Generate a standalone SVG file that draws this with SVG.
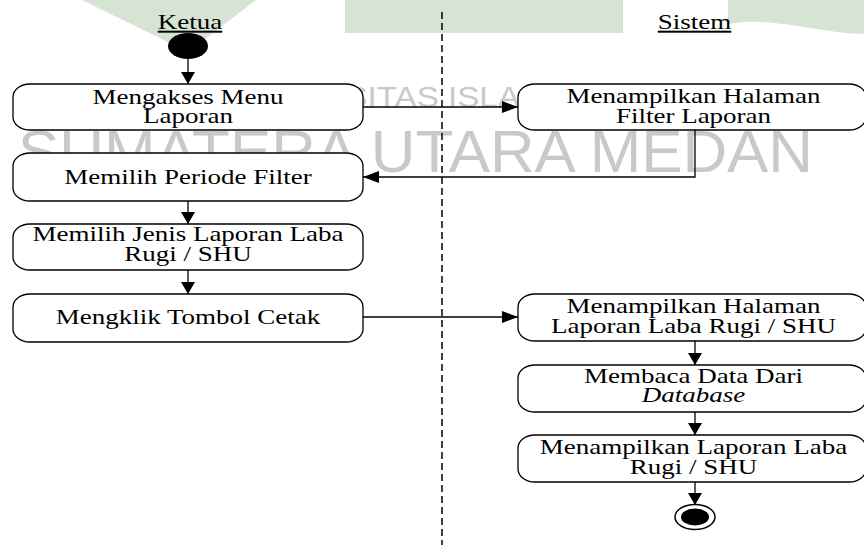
<svg xmlns="http://www.w3.org/2000/svg" width="864" height="545" viewBox="0 0 864 545">
<style>
.wm{fill:#d6e5d3}
.wt{fill:#c9c9c9;font-family:"Liberation Sans Narrow","Liberation Sans",sans-serif}
.node{fill:#fff;stroke:#000;stroke-width:1.3}
.t{font-family:"Liberation Serif","Times New Roman",serif;font-size:20px;fill:#000;text-anchor:middle}
.lane{text-decoration:underline}
.conn{fill:none;stroke:#000;stroke-width:1.3}
.ah{marker-end:url(#ah)}
.av{marker-end:url(#av)}
</style>
<defs>
<marker id="ah" markerUnits="userSpaceOnUse" markerWidth="16" markerHeight="12" refX="16" refY="6" orient="auto"><path d="M0,0 L16,6 L0,12 Z" fill="#000"/></marker>
<marker id="av" markerUnits="userSpaceOnUse" markerWidth="12" markerHeight="14" refX="12" refY="7" orient="auto"><path d="M0,0 L12,7 L0,14 Z" fill="#000"/></marker>
</defs>
<rect width="864" height="545" fill="#fff"/>
<g id="watermark">
<polygon class="wm" points="82,0 256,0 188,52"/>
<rect class="wm" x="345" y="0" width="278" height="33"/>
<path class="wm" d="M728,0 L864,0 L864,34 C830,34 800,24 760,22 C745,21 735,23 728,24 Z"/>
<text class="wt" x="220" y="107" font-size="30" textLength="464" lengthAdjust="spacingAndGlyphs">UNIVERSITAS ISLAM NEGERI</text>
<text class="wt" x="18" y="172" font-size="60" textLength="795" lengthAdjust="spacingAndGlyphs">SUMATERA UTARA MEDAN</text>
</g>
<line x1="442" y1="12" x2="442" y2="545" stroke="#000" stroke-width="1.5" stroke-dasharray="7,4"/>
<g id="lanes">
<g transform="translate(190,29) scale(1.35,1)"><text class="t lane" x="0" y="0">Ketua</text></g>
<g transform="translate(694.5,29) scale(1.35,1)"><text class="t lane" x="0" y="0">Sistem</text></g>
</g>
<g id="connectors">
<line class="conn av" x1="188" y1="59" x2="188" y2="84"/>
<line class="conn ah" x1="363" y1="107" x2="518" y2="107"/>
<polyline class="conn ah" points="695,130 695,177 363,177"/>
<line class="conn av" x1="188" y1="201" x2="188" y2="224"/>
<line class="conn av" x1="188" y1="270" x2="188" y2="294"/>
<line class="conn ah" x1="363" y1="317" x2="518" y2="317"/>
<line class="conn av" x1="695" y1="341" x2="695" y2="365"/>
<line class="conn av" x1="695" y1="412" x2="695" y2="435"/>
<line class="conn av" x1="695" y1="482" x2="695" y2="505"/>
</g>
<g id="start"><ellipse cx="188" cy="46" rx="20" ry="13" fill="#000"/></g>
<g id="n1"><rect class="node" x="13" y="84" width="350" height="46" rx="17" ry="13"/>
<g transform="translate(188,0) scale(1.35,1)"><text class="t" x="0" y="104">Mengakses Menu</text><text class="t" x="0" y="123">Laporan</text></g></g>
<g id="n2"><rect class="node" x="518" y="84" width="348" height="46" rx="17" ry="13"/>
<g transform="translate(693.5,0) scale(1.35,1)"><text class="t" x="0" y="103">Menampilkan Halaman</text><text class="t" x="0" y="123">Filter Laporan</text></g></g>
<g id="n3"><rect class="node" x="13" y="153" width="350" height="48" rx="17" ry="13"/>
<g transform="translate(188,0) scale(1.35,1)"><text class="t" x="0" y="184">Memilih Periode Filter</text></g></g>
<g id="n4"><rect class="node" x="13" y="224" width="350" height="46" rx="17" ry="13"/>
<g transform="translate(188,0) scale(1.35,1)"><text class="t" x="0" y="241">Memilih Jenis Laporan Laba</text><text class="t" x="0" y="261">Rugi / SHU</text></g></g>
<g id="n5"><rect class="node" x="13" y="294" width="350" height="48" rx="17" ry="13"/>
<g transform="translate(188,0) scale(1.35,1)"><text class="t" x="0" y="324">Mengklik Tombol Cetak</text></g></g>
<g id="n6"><rect class="node" x="518" y="294" width="348" height="47" rx="17" ry="13"/>
<g transform="translate(693.5,0) scale(1.35,1)"><text class="t" x="0" y="313">Menampilkan Halaman</text><text class="t" x="0" y="333">Laporan Laba Rugi / SHU</text></g></g>
<g id="n7"><rect class="node" x="518" y="365" width="348" height="47" rx="17" ry="13"/>
<g transform="translate(693.5,0) scale(1.35,1)"><text class="t" x="0" y="383">Membaca Data Dari</text><text class="t" x="0" y="402" font-style="italic">Database</text></g></g>
<g id="n8"><rect class="node" x="518" y="435" width="348" height="47" rx="17" ry="13"/>
<g transform="translate(693.5,0) scale(1.35,1)"><text class="t" x="0" y="454">Menampilkan Laporan Laba</text><text class="t" x="0" y="474">Rugi / SHU</text></g></g>
<g id="end"><ellipse cx="695" cy="517" rx="20" ry="12.5" fill="#fff" stroke="#000" stroke-width="1.5"/><ellipse cx="695" cy="517" rx="14" ry="8.5" fill="#000"/></g>
</svg>
